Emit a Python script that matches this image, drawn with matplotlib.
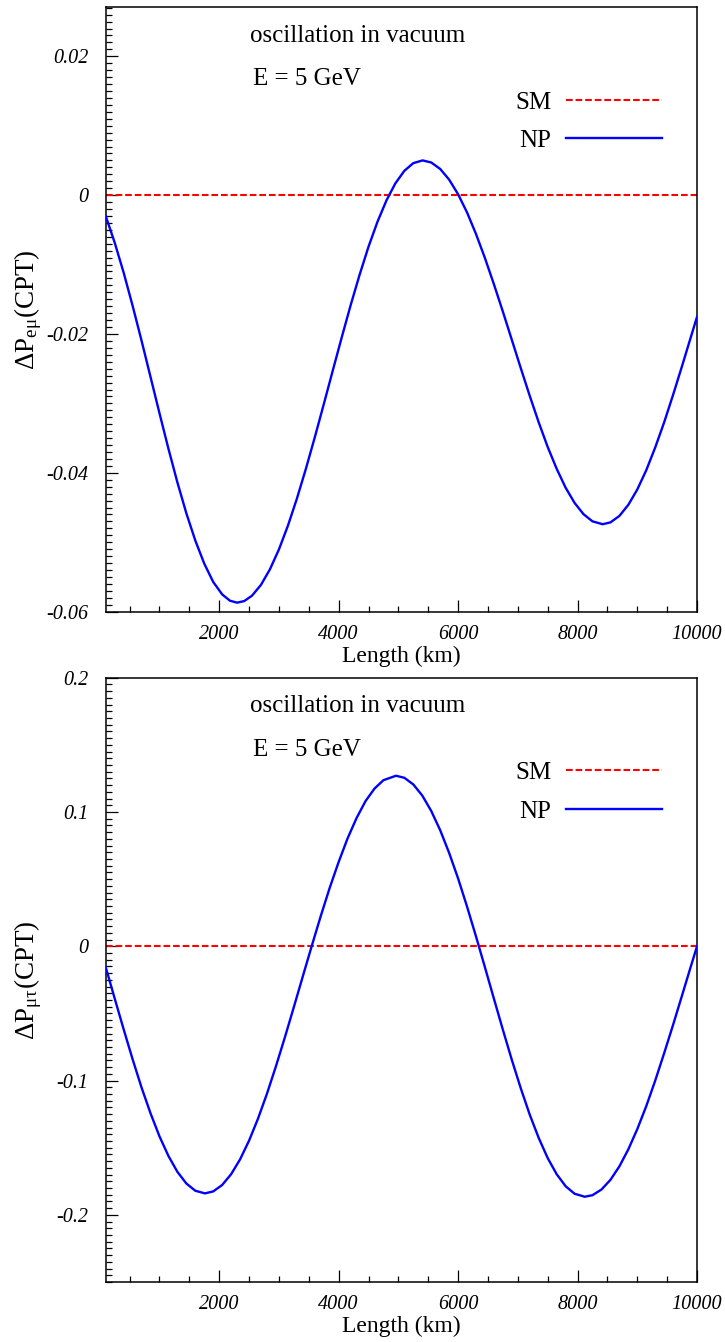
import matplotlib
matplotlib.use('Agg')
import matplotlib.pyplot as plt
from matplotlib.ticker import MultipleLocator

plt.rcParams['font.family'] = 'Liberation Serif'
plt.rcParams['mathtext.fontset'] = 'custom'
plt.rcParams['mathtext.rm'] = 'Liberation Serif'
plt.rcParams['mathtext.it'] = 'Liberation Serif:italic'

# baseline length (km) and Delta P values
L_emu = [100, 250, 400, 550, 700, 850, 1000, 1150, 1300, 1450, 1600, 1750,
         1900, 2050, 2180, 2300, 2420, 2550, 2700, 2850, 3000, 3150, 3300,
         3450, 3600, 3750, 3900, 4050, 4200, 4350, 4500, 4650, 4800, 4950,
         5100, 5250, 5405, 5550, 5700, 5850, 6000, 6150, 6300, 6450, 6600,
         6750, 6900, 7050, 7200, 7350, 7500, 7650, 7800, 7950, 8100, 8250,
         8420, 8550, 8700, 8850, 9000, 9150, 9300, 9450, 9600, 9750, 9900,
         10000]
np_emu = [-0.0030, -0.00683, -0.01115, -0.01592, -0.02096, -0.02618,
          -0.03140, -0.03652, -0.04137, -0.04582, -0.04975, -0.05308,
          -0.05572, -0.05751, -0.05842, -0.0587, -0.05847, -0.05769,
          -0.05613, -0.05389, -0.05104, -0.04763, -0.04374, -0.03946,
          -0.03490, -0.03015, -0.02532, -0.02054, -0.01588, -0.01149,
          -0.00743, -0.00384, -0.00077, 0.00170, 0.00350, 0.00461, 0.0050,
          0.00470, 0.00377, 0.00223, 0.00012, -0.00250, -0.00561, -0.00908,
          -0.01285, -0.01679, -0.02086, -0.02494, -0.02893, -0.03274,
          -0.03628, -0.03941, -0.04214, -0.04433, -0.04596, -0.04699,
          -0.0474, -0.04714, -0.04621, -0.04461, -0.04240, -0.03963,
          -0.03635, -0.03272, -0.02875, -0.02460, -0.02035, -0.01753]

L_mutau = [100, 250, 400, 550, 700, 850, 1000, 1150, 1300, 1450, 1600, 1760,
           1900, 2050, 2200, 2350, 2500, 2650, 2800, 2950, 3100, 3250, 3400,
           3550, 3700, 3850, 4000, 4150, 4300, 4450, 4600, 4750, 4960, 5100,
           5250, 5400, 5550, 5700, 5850, 6000, 6150, 6300, 6450, 6600, 6750,
           6900, 7050, 7200, 7350, 7500, 7650, 7800, 7950, 8120, 8250, 8400,
           8550, 8700, 8850, 9000, 9150, 9300, 9450, 9600, 9750, 9900, 10000]
np_mutau = [-0.01562, -0.03881, -0.06175, -0.08406, -0.10518, -0.12434,
            -0.14150, -0.15613, -0.16794, -0.17664, -0.18203, -0.1840,
            -0.18254, -0.17773, -0.16971, -0.15864, -0.14474, -0.12833,
            -0.10975, -0.08935, -0.06775, -0.04525, -0.02239, 0.00030,
            0.02246, 0.04350, 0.06278, 0.08040, 0.09551, 0.10811, 0.11742,
            0.12370, 0.1270, 0.12548, 0.12053, 0.11225, 0.10079, 0.08645,
            0.06953, 0.05049, 0.02953, 0.00729, -0.01574, -0.03909, -0.06221,
            -0.08466, -0.10585, -0.12546, -0.14277, -0.15772, -0.16971,
            -0.17865, -0.18427, -0.1865, -0.18534, -0.18114, -0.17395,
            -0.16391, -0.15121, -0.13614, -0.11907, -0.10004, -0.07958,
            -0.05842, -0.03651, -0.01448, 0.0]

# standard model: no CPT difference
L_sm = [100, 10000]
sm_zero = [0.0, 0.0]

xticks = [2000, 4000, 6000, 8000, 10000]
xticklabels = ['2000', '4000', '6000', '8000', '10000']
yticks_emu = [0.02, 0.0, -0.02, -0.04, -0.06]
yticklabels_emu = ['0.02', '0', '-0.02', '-0.04', '-0.06']
yticks_mutau = [0.2, 0.1, 0.0, -0.1, -0.2]
yticklabels_mutau = ['0.2', '0.1', '0', '-0.1', '-0.2']

fig = plt.figure(figsize=(7.25, 13.42), dpi=100)
ax1 = fig.add_axes([0.1458, 0.5442, 0.8156, 0.4506])
ax2 = fig.add_axes([0.1458, 0.0447, 0.8156, 0.4503])


def draw_panel(ax, L, vals, ylim, yticks, ylabels, yminor, ylabel):
    h_sm, = ax.plot(L_sm, sm_zero, color='#ff0000', lw=1.5, dashes=(3.2, 1.4),
                    label='SM', zorder=2)
    h_np, = ax.plot(L, vals, color='#0000ff', lw=1.7, label='NP', zorder=3)
    ax.set_xlim(100, 10000)
    ax.set_ylim(*ylim)
    ax.set_xticks(xticks, labels=xticklabels, fontstyle='italic', fontsize=14.5)
    ax.set_yticks(yticks, labels=ylabels, fontstyle='italic', fontsize=14.5)
    ax.xaxis.set_minor_locator(MultipleLocator(500))
    ax.yaxis.set_minor_locator(MultipleLocator(yminor))
    ax.tick_params(which='both', direction='in', top=False, right=False,
                   width=0.9, color='black')
    ax.tick_params(which='major', length=8.6)
    ax.tick_params(which='minor', length=4.3)
    ax.tick_params(axis='x', pad=9.5)
    ax.tick_params(axis='y', pad=12.5)
    for s in ax.spines.values():
        s.set_linewidth(1.1)
    ax.set_xlabel('Length (km)', fontsize=17)
    ax.xaxis.set_label_coords(0.5, -0.056)
    ax.set_ylabel(ylabel, fontsize=19.5)
    ax.yaxis.set_label_coords(-0.104, 0.5)
    ax.text(0.244, 0.9426, 'oscillation in vacuum', transform=ax.transAxes,
            fontsize=18, va='baseline', ha='left')
    ax.text(0.2486, 0.871, 'E = 5 GeV', transform=ax.transAxes,
            fontsize=18, va='baseline', ha='left')
    ax.legend(handles=[h_sm, h_np], loc='upper left',
              bbox_to_anchor=(0.692, 0.861), frameon=False, fontsize=18,
              markerfirst=False, handlelength=3.84, handletextpad=0.6,
              labelspacing=0.64, borderpad=0, borderaxespad=0)


draw_panel(ax1, L_emu, np_emu, (-0.06, 0.0271), yticks_emu, yticklabels_emu,
           0.001, r'ΔP$_{\mathrm{eμ}}$(CPT)')
draw_panel(ax2, L_mutau, np_mutau, (-0.25, 0.2), yticks_mutau,
           yticklabels_mutau, 0.005, r'ΔP$_{\mathrm{μτ}}$(CPT)')

fig.savefig('out.png', dpi=100)
